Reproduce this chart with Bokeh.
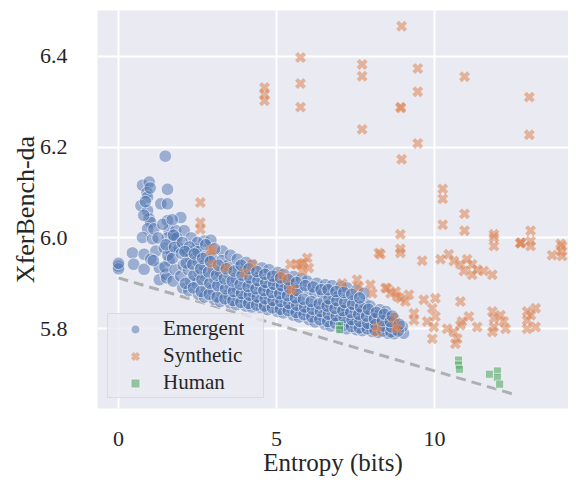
from bokeh.plotting import figure
from bokeh.models import Range1d, FixedTicker, CustomJSTickFormatter
from bokeh.embed import file_html
from bokeh.resources import INLINE

# ---------------- data ----------------
emergent_points = [
    (0.0, 5.938), (0.0, 5.932), (0.0, 5.944), (0.44, 5.967), (0.48, 5.942), (0.81, 5.931),
    (0.81, 5.964), (0.76, 6.116), (0.97, 6.123), (0.90, 6.10), (0.92, 6.09), (0.71, 6.071),
    (0.92, 6.06), (0.97, 6.042), (1.02, 6.034), (0.92, 6.02), (0.76, 6.001), (1.08, 5.998),
    (1.48, 6.18), (1.55, 6.107), (1.34, 6.075), (1.55, 6.075), (1.55, 6.038), (1.97, 6.045),
    (1.60, 6.016), (1.81, 6.016), (2.08, 6.016), (1.55, 6.0), (1.76, 5.998), (1.18, 5.971),
    (1.45, 5.978), (1.66, 5.971), (1.92, 5.978), (2.18, 5.971), (2.45, 5.975), (2.71, 5.993),
    (2.92, 5.995), (3.29, 5.971), (1.02, 5.953), (1.29, 5.934), (1.29, 5.908), (0.85, 6.08),
    (0.80, 6.05), (1.0, 6.11), (1.12, 6.02), (1.25, 6.0), (1.4, 6.03), (1.7, 6.04), (1.85, 6.0),
    (2.3, 6.0), (2.5, 5.99), (1.1, 5.95), (1.6, 5.95), (1.5, 5.92),
    (1.52, 5.912), (1.47, 5.936), (1.56, 5.962), (1.50, 5.985),
    (1.73, 5.905), (1.79, 5.93), (1.71, 5.955), (1.77, 5.98), (1.74, 6.006),
    (2.03, 5.89), (1.97, 5.916), (2.05, 5.94), (1.99, 5.966), (2.02, 5.99),
    (2.22, 5.884), (2.28, 5.906), (2.21, 5.93), (2.27, 5.955), (2.24, 5.98),
    (2.53, 5.876), (2.47, 5.90), (2.55, 5.924), (2.49, 5.95), (2.52, 5.97),
    (2.72, 5.87), (2.78, 5.89), (2.74, 5.916), (2.70, 5.94), (2.79, 5.96), (2.76, 5.985),
    (3.03, 5.865), (2.97, 5.886), (3.05, 5.91), (3.0, 5.93), (2.96, 5.955), (3.04, 5.976),
    (3.22, 5.86), (3.28, 5.88), (3.24, 5.90), (3.21, 5.925), (3.27, 5.95),
    (3.53, 5.857), (3.48, 5.875), (3.55, 5.895), (3.51, 5.92), (3.46, 5.94), (3.54, 5.962),
    (3.72, 5.853), (3.78, 5.87), (3.74, 5.89), (3.70, 5.912), (3.79, 5.934), (3.76, 5.953),
    (4.03, 5.85), (3.97, 5.868), (4.05, 5.885), (4.0, 5.905), (3.96, 5.926), (4.04, 5.946),
    (4.22, 5.848), (4.28, 5.865), (4.24, 5.882), (4.21, 5.90), (4.27, 5.92), (4.23, 5.94),
    (4.53, 5.845), (4.47, 5.86), (4.55, 5.878), (4.5, 5.895), (4.46, 5.915), (4.54, 5.934),
    (4.72, 5.842), (4.78, 5.858), (4.74, 5.875), (4.71, 5.892), (4.79, 5.91), (4.76, 5.93),
    (5.03, 5.838), (4.97, 5.855), (5.05, 5.87), (5.0, 5.888), (4.96, 5.905), (5.04, 5.924),
    (5.22, 5.835), (5.28, 5.85), (5.24, 5.868), (5.21, 5.885), (5.27, 5.90), (5.23, 5.92),
    (5.53, 5.83), (5.47, 5.845), (5.55, 5.862), (5.5, 5.88), (5.46, 5.898), (5.54, 5.915),
    (5.72, 5.826), (5.78, 5.842), (5.74, 5.86), (5.71, 5.89), (5.79, 5.91),
    (6.03, 5.82), (5.97, 5.838), (6.05, 5.855), (6.0, 5.885), (5.96, 5.905),
    (6.22, 5.815), (6.28, 5.832), (6.24, 5.85), (6.21, 5.88), (6.27, 5.90),
    (6.53, 5.81), (6.47, 5.828), (6.55, 5.845), (6.5, 5.86), (6.46, 5.878), (6.54, 5.897),
    (6.72, 5.806), (6.78, 5.822), (6.74, 5.84), (6.71, 5.855), (6.79, 5.875), (6.76, 5.895),
    (7.03, 5.803), (6.97, 5.818), (7.05, 5.835), (7.0, 5.85), (6.96, 5.872), (7.04, 5.893),
    (7.22, 5.80), (7.28, 5.815), (7.24, 5.83), (7.21, 5.846), (7.27, 5.868), (7.23, 5.89),
    (7.53, 5.798), (7.47, 5.812), (7.55, 5.826), (7.5, 5.842), (7.46, 5.862), (7.54, 5.885),
    (7.72, 5.796), (7.78, 5.808), (7.74, 5.822), (7.71, 5.838), (7.79, 5.856), (7.76, 5.878),
    (8.03, 5.794), (7.97, 5.805), (8.05, 5.818), (8.0, 5.833), (7.96, 5.85),
    (8.22, 5.792), (8.28, 5.803), (8.24, 5.815), (8.21, 5.828), (8.27, 5.842),
    (8.53, 5.79), (8.47, 5.80), (8.55, 5.812), (8.5, 5.825), (8.46, 5.838),
    (8.72, 5.789), (8.78, 5.798), (8.74, 5.81), (8.71, 5.822),
    (9.02, 5.79), (8.98, 5.805),
    (2.12, 5.90), (2.14, 5.945), (2.10, 5.97),
    (2.37, 5.89), (2.39, 5.918), (2.35, 5.942), (2.40, 5.965),
    (2.62, 5.882), (2.64, 5.908), (2.60, 5.932), (2.66, 5.955),
    (2.87, 5.876), (2.89, 5.90), (2.85, 5.925), (2.91, 5.948),
    (3.12, 5.87), (3.14, 5.895), (3.10, 5.918), (3.16, 5.94),
    (3.37, 5.866), (3.39, 5.888), (3.35, 5.91), (3.41, 5.932),
    (3.62, 5.862), (3.64, 5.882), (3.60, 5.905), (3.66, 5.927),
    (3.87, 5.858), (3.89, 5.878), (3.85, 5.898), (3.91, 5.918), (3.88, 5.94),
    (4.12, 5.856), (4.14, 5.874), (4.10, 5.893), (4.16, 5.912), (4.13, 5.932),
    (4.37, 5.852), (4.39, 5.87), (4.35, 5.888), (4.41, 5.906), (4.38, 5.926),
    (4.62, 5.85), (4.64, 5.866), (4.60, 5.884), (4.66, 5.902), (4.63, 5.92),
    (4.87, 5.846), (4.89, 5.862), (4.85, 5.88), (4.91, 5.898), (4.88, 5.916),
    (5.12, 5.843), (5.14, 5.86), (5.10, 5.877), (5.16, 5.895), (5.13, 5.912),
    (5.37, 5.84), (5.39, 5.856), (5.35, 5.873), (5.41, 5.89), (5.38, 5.908),
    (5.62, 5.836), (5.64, 5.852), (5.60, 5.868), (5.66, 5.884), (5.63, 5.902),
    (5.87, 5.831), (5.89, 5.848), (5.85, 5.865), (5.91, 5.895),
    (6.12, 5.826), (6.14, 5.843), (6.10, 5.86), (6.16, 5.892),
    (6.37, 5.82), (6.39, 5.838), (6.35, 5.855), (6.41, 5.886),
    (6.62, 5.816), (6.64, 5.832), (6.60, 5.85), (6.66, 5.866), (6.63, 5.886),
    (6.87, 5.812), (6.89, 5.828), (6.85, 5.845), (6.91, 5.862), (6.88, 5.882),
    (7.12, 5.808), (7.14, 5.825), (7.10, 5.84), (7.16, 5.858), (7.13, 5.88),
    (7.37, 5.805), (7.39, 5.82), (7.35, 5.836), (7.41, 5.854), (7.38, 5.876),
    (7.62, 5.802), (7.64, 5.816), (7.60, 5.832), (7.66, 5.848), (7.63, 5.868),
    (7.87, 5.80), (7.89, 5.812), (7.85, 5.828), (7.91, 5.843),
    (8.12, 5.797), (8.14, 5.809), (8.10, 5.822), (8.16, 5.836),
    (8.37, 5.795), (8.39, 5.806), (8.35, 5.818), (8.41, 5.832),
    (8.62, 5.793), (8.64, 5.804), (8.60, 5.816), (8.66, 5.828),
    (8.85, 5.795), (8.88, 5.81),
]

synthetic_points = [
    (4.62, 6.331), (4.62, 6.316), (4.62, 6.302),
    (5.76, 6.397), (5.76, 6.34), (5.76, 6.288),
    (7.71, 6.382), (7.71, 6.356), (7.71, 6.239),
    (8.96, 6.466), (9.47, 6.373), (9.47, 6.322), (8.92, 6.288), (8.94, 6.286), (9.47, 6.208),
    (8.96, 6.173), (10.95, 6.355), (13.0, 6.31), (13.0, 6.227),
    (10.26, 6.108), (10.26, 6.086), (10.95, 6.053), (10.26, 6.029), (10.95, 6.016),
    (11.88, 6.008), (8.92, 6.008), (12.72, 5.989), (12.74, 5.99), (13.04, 6.016),
    (13.04, 5.993), (13.99, 5.987),
    (2.59, 6.078), (2.59, 6.034), (2.59, 6.019), (2.97, 5.975),
    (8.92, 5.976), (8.24, 5.967), (9.61, 5.95),
    (10.19, 5.953), (10.45, 5.964), (10.61, 5.949), (10.82, 5.942), (11.03, 5.953),
    (11.19, 5.942), (11.35, 5.93), (11.56, 5.927), (11.83, 5.919), (10.93, 5.927), (11.19, 5.919),
    (11.88, 6.001), (11.88, 5.982), (12.72, 5.988), (13.04, 5.982), (13.72, 5.962),
    (14.04, 5.982), (14.04, 5.96), (14.0, 5.97),
    (5.13, 5.919), (5.65, 5.942), (5.97, 5.956), (6.02, 5.934), (5.86, 5.945), (5.44, 5.886),
    (5.28, 5.912), (7.08, 5.90), (7.55, 5.908), (7.6, 5.893), (7.97, 5.897), (8.03, 5.878),
    (8.5, 5.889), (8.77, 5.882), (8.92, 5.867), (9.19, 5.875), (9.08, 5.86),
    (9.66, 5.864), (10.03, 5.867), (9.93, 5.845), (10.03, 5.827), (9.77, 5.816), (9.98, 5.804),
    (9.35, 5.834), (9.35, 5.819), (9.93, 5.778), (10.82, 5.86),
    (10.4, 5.80), (10.61, 5.793), (10.72, 5.778), (10.66, 5.767), (10.82, 5.808),
    (11.09, 5.827), (11.35, 5.804), (10.87, 5.816),
    (11.83, 5.838), (11.88, 5.823), (11.88, 5.804), (12.09, 5.83), (12.19, 5.816),
    (12.25, 5.80), (11.83, 5.793),
    (12.93, 5.838), (12.93, 5.819), (12.93, 5.80), (13.2, 5.845), (13.2, 5.804), (13.05, 5.83),
    (8.18, 5.804), (8.18, 5.793), (8.77, 5.804), (8.71, 5.823), (8.82, 5.80),
    (2.91, 5.971), (2.97, 5.942), (3.39, 5.934), (4.23, 5.942), (3.97, 5.923), (5.5, 5.886),
    (5.76, 5.942), (5.44, 5.942), (5.81, 5.927),
    (8.45, 5.89), (8.61, 5.878), (8.82, 5.871), (8.29, 5.964), (8.92, 5.967),
]

human_points = [
    (7.0, 5.807), (7.0, 5.798),
    (10.76, 5.731), (10.76, 5.72), (10.79, 5.711),
    (11.74, 5.70), (11.99, 5.707), (11.99, 5.693), (12.06, 5.678),
]

trend_x = [0.0, 12.5]
trend_y = [5.912, 5.656]

x_ticks = [0, 5, 10]
y_ticks = [5.8, 6.0, 6.2, 6.4]

emergent_x = [pt[0] for pt in emergent_points]
emergent_y = [pt[1] for pt in emergent_points]
synthetic_x = [pt[0] for pt in synthetic_points]
synthetic_y = [pt[1] for pt in synthetic_points]
human_x = [pt[0] for pt in human_points]
human_y = [pt[1] for pt in human_points]

FONT = "Liberation Serif"
TXT = "#262626"
X_MIN, X_MAX = -0.665, 14.24
Y_MIN, Y_MAX = 5.6245, 6.5007

p = figure(width=568, height=478, output_backend="svg", toolbar_location=None,
           x_range=Range1d(X_MIN, X_MAX), y_range=Range1d(Y_MIN, Y_MAX),
           min_border_left=97, min_border_right=0, min_border_top=10, min_border_bottom=70)

p.background_fill_color = "#EAEAF2"
p.border_fill_color = "white"
p.outline_line_color = None

for ax in (p.xaxis, p.yaxis):
    ax.axis_line_color = None
    ax.major_tick_line_color = None
    ax.minor_tick_line_color = None
    ax.major_label_text_font = FONT
    ax.major_label_text_font_size = "22px"
    ax.major_label_text_color = TXT
    ax.axis_label_text_font = FONT
    ax.axis_label_text_font_size = "25px"
    ax.axis_label_text_font_style = "normal"
    ax.axis_label_text_color = TXT

p.xaxis.ticker = FixedTicker(ticks=x_ticks)
p.yaxis.ticker = FixedTicker(ticks=y_ticks)
p.yaxis.formatter = CustomJSTickFormatter(code="return tick.toFixed(1);")
p.xaxis.major_label_standoff = 17
p.yaxis.major_label_standoff = 24
p.xaxis.axis_label = "Entropy (bits)"
p.xaxis.axis_label_standoff = 0
p.yaxis.axis_label = "XferBench-da"
p.yaxis.axis_label_standoff = -3
p.yaxis.axis_label_text_font_size = "26px"

p.xgrid.grid_line_color = "white"
p.ygrid.grid_line_color = "white"
p.xgrid.grid_line_width = 2
p.ygrid.grid_line_width = 2

p.line(trend_x, trend_y, line_color="#A0A0A0", line_width=3, line_dash="10 6", line_alpha=0.8)

p.scatter(emergent_x, emergent_y, marker="circle", size=12.5, fill_color="#4C72B0", fill_alpha=0.5,
          line_color="white", line_alpha=0.6, line_width=1, legend_label="Emergent")
p.scatter(synthetic_x, synthetic_y, marker="x", size=11.5, line_color="#DD8452", line_alpha=0.55,
          line_width=4, legend_label="Synthetic")
p.scatter(human_x, human_y, marker="square", size=8, fill_color="#55A868", fill_alpha=0.6,
          line_color="white", line_alpha=0.6, line_width=1, legend_label="Human")

lg = p.legend[0]
lg.location = "bottom_left"
lg.margin = 10
lg.padding = 2
lg.spacing = 2
lg.label_text_font = FONT
lg.label_text_font_size = "21px"
lg.label_text_color = TXT
lg.glyph_width = 50
lg.glyph_height = 22
lg.label_height = 22
lg.label_width = 98
lg.label_standoff = 3
lg.background_fill_color = "#EAEAF2"
lg.background_fill_alpha = 0.8
lg.border_line_color = "#CCCCCC"
lg.border_line_width = 1.5

open("out.html", "w").write(file_html(p, INLINE))
